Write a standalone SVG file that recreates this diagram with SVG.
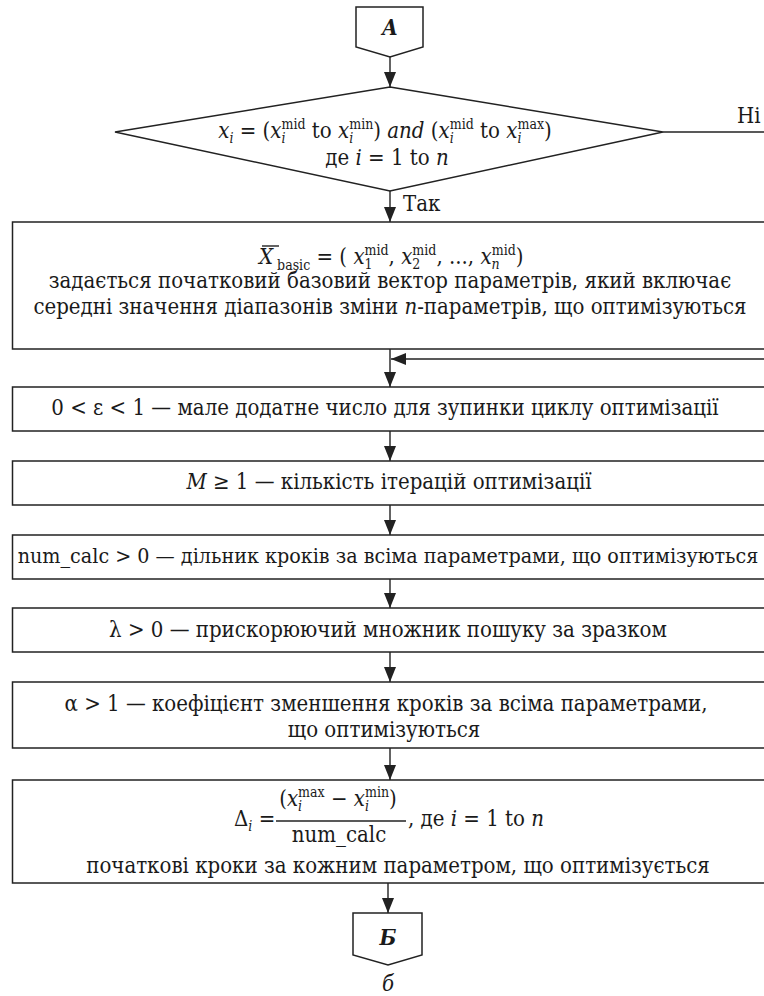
<svg xmlns="http://www.w3.org/2000/svg" width="764" height="996" viewBox="0 0 764 996">
<style>
.t{font-family:"DejaVu Serif Condensed","DejaVu Serif",serif;font-stretch:condensed;font-size:22px;fill:#1a1a1a}
.i{font-style:italic}
.b{font-weight:bold}
.s{font-size:14px}
.box{fill:#fff;stroke:#222;stroke-width:1.5}
.ln{stroke:#222;stroke-width:1.4;fill:none}
</style>
<defs>
<marker id="ah" markerWidth="16" markerHeight="12" refX="15" refY="6" orient="auto" markerUnits="userSpaceOnUse">
<path d="M0,0 L15,6 L0,12 Z" fill="#222"/>
</marker>
</defs>
<g id="connectors">
<line class="ln" x1="390" y1="57" x2="390" y2="87" marker-end="url(#ah)"/>
<line class="ln" x1="390" y1="191" x2="390" y2="222" marker-end="url(#ah)"/>
<line class="ln" x1="663" y1="132" x2="764" y2="132"/>
<line class="ln" x1="390" y1="349" x2="390" y2="387" marker-end="url(#ah)"/>
<line class="ln" x1="764" y1="359" x2="391" y2="359" marker-end="url(#ah)"/>
<line class="ln" x1="390" y1="431" x2="390" y2="461" marker-end="url(#ah)"/>
<line class="ln" x1="390" y1="505" x2="390" y2="535" marker-end="url(#ah)"/>
<line class="ln" x1="390" y1="579" x2="390" y2="608" marker-end="url(#ah)"/>
<line class="ln" x1="390" y1="652" x2="390" y2="682" marker-end="url(#ah)"/>
<line class="ln" x1="390" y1="748" x2="390" y2="780" marker-end="url(#ah)"/>
<line class="ln" x1="388" y1="883" x2="388" y2="913" marker-end="url(#ah)"/>
<text class="t" x="403" y="211">Так</text>
<text class="t" x="737" y="123">Ні</text>
</g>

<g id="connA">
<path class="box" d="M356,7 H423 V47 L390,57 L356,47 Z"/>
<text class="t i b" x="390" y="35" text-anchor="middle">A</text>
</g>

<g id="decision">
<path class="box" d="M390,87 L663,132 L390,191 L115,132 Z"/>
<text class="t" x="385" y="138" text-anchor="middle"><tspan class="i">x</tspan><tspan class="s i" dy="5">i</tspan><tspan dy="-5"> = (</tspan><tspan class="i">x</tspan><tspan class="s i" dy="5">i</tspan><tspan class="s" dx="-4" dy="-14">mid</tspan><tspan dy="9"> to </tspan><tspan class="i">x</tspan><tspan class="s i" dy="5">i</tspan><tspan class="s" dx="-4" dy="-14">min</tspan><tspan dy="9">) </tspan><tspan class="i">and</tspan><tspan> (</tspan><tspan class="i">x</tspan><tspan class="s i" dy="5">i</tspan><tspan class="s" dx="-4" dy="-14">mid</tspan><tspan dy="9"> to </tspan><tspan class="i">x</tspan><tspan class="s i" dy="5">i</tspan><tspan class="s" dx="-4" dy="-14">max</tspan><tspan dy="9">)</tspan></text>
<text class="t" x="387" y="165" text-anchor="middle">де <tspan class="i">i</tspan> = 1 to <tspan class="i">n</tspan></text>
</g>

<g id="box1">
<rect class="box" x="12.5" y="222" width="760" height="127"/>
<line class="ln" x1="262" y1="246" x2="279" y2="246"/>
<text class="t" x="259" y="264"><tspan class="i">X</tspan><tspan class="s" dy="6"> basic</tspan><tspan dy="-6"> = ( </tspan><tspan class="i">x</tspan><tspan class="s" dy="5">1</tspan><tspan class="s" dx="-8" dy="-14">mid</tspan><tspan dy="9">, </tspan><tspan class="i">x</tspan><tspan class="s" dy="5">2</tspan><tspan class="s" dx="-8" dy="-14">mid</tspan><tspan dy="9">, ..., </tspan><tspan class="i">x</tspan><tspan class="s i" dy="5">n</tspan><tspan class="s" dx="-8" dy="-14">mid</tspan><tspan dy="9">)</tspan></text>
<text class="t" x="390" y="288" text-anchor="middle">задається початковий базовий вектор параметрів, який включає</text>
<text class="t" x="390" y="314" text-anchor="middle">середні значення діапазонів зміни <tspan class="i">n</tspan>-параметрів, що оптимізуються</text>
</g>

<g id="box2">
<rect class="box" x="12.5" y="387" width="760" height="44"/>
<text class="t" x="385" y="415" text-anchor="middle">0 &lt; ε &lt; 1 — мале додатне число для зупинки циклу оптимізації</text>
</g>

<g id="box3">
<rect class="box" x="12.5" y="461" width="760" height="44"/>
<text class="t" x="389" y="489" text-anchor="middle"><tspan class="i">M</tspan> ≥ 1 — кількість ітерацій оптимізації</text>
</g>

<g id="box4">
<rect class="box" x="12.5" y="535" width="760" height="44"/>
<text class="t" x="388" y="563" text-anchor="middle" style="font-size:21.3px">num_calc &gt; 0 — дільник кроків за всіма параметрами, що оптимізуються</text>
</g>

<g id="box5">
<rect class="box" x="12.5" y="608" width="760" height="44"/>
<text class="t" x="388" y="637" text-anchor="middle">λ &gt; 0 — прискорюючий множник пошуку за зразком</text>
</g>

<g id="box6">
<rect class="box" x="12.5" y="682" width="760" height="66"/>
<text class="t" x="386" y="711" text-anchor="middle">α &gt; 1 — коефіцієнт зменшення кроків за всіма параметрами,</text>
<text class="t" x="384" y="737" text-anchor="middle">що оптимізуються</text>
</g>

<g id="box7">
<rect class="box" x="12.5" y="780" width="760" height="103"/>
<text class="t" x="234" y="826">Δ<tspan class="s i" dy="5">i</tspan><tspan dy="-5"> =</tspan></text>
<text class="t" x="338" y="806" text-anchor="middle">(<tspan class="i">x</tspan><tspan class="s i" dy="5">i</tspan><tspan class="s" dx="-4" dy="-14">max</tspan><tspan dy="9"> − </tspan><tspan class="i">x</tspan><tspan class="s i" dy="5">i</tspan><tspan class="s" dx="-4" dy="-14">min</tspan><tspan dy="9">)</tspan></text>
<line class="ln" x1="276" y1="821" x2="406" y2="821"/>
<text class="t" x="339" y="842" text-anchor="middle">num_calc</text>
<text class="t" x="408" y="826">, де <tspan class="i">i</tspan> = 1 to <tspan class="i">n</tspan></text>
<text class="t" x="398" y="873" text-anchor="middle">початкові кроки за кожним параметром, що оптимізується</text>
</g>

<g id="connB">
<path class="box" d="M353,913 H422 V955 L388,965 L353,955 Z"/>
<text class="t i b" x="388" y="945" text-anchor="middle">Б</text>
</g>

<text class="t i" x="388" y="991" text-anchor="middle">б</text>
</svg>
